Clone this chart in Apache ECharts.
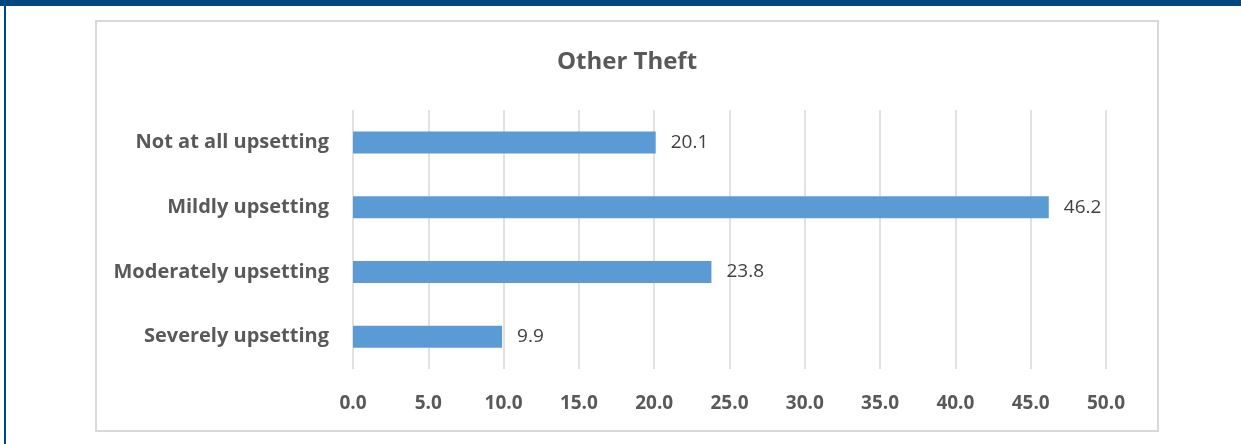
<!DOCTYPE html>
<html>
<head>
<meta charset="utf-8">
<style>
  html, body { margin: 0; padding: 0; background: #ffffff; }
  #chart { width: 1241px; height: 444px; }
</style>
<script src="https://cdn.jsdelivr.net/npm/echarts@6/dist/echarts.min.js"></script>
</head>
<body>
<div id="chart"></div>
<script>
// Survey responses: how upsetting "Other Theft" was, percent of respondents
const categories = ['Not at all upsetting', 'Mildly upsetting', 'Moderately upsetting', 'Severely upsetting'];
const percentValues = [20.1, 46.2, 23.8, 9.9];
const axisMin = 0;
const axisMax = 50;
const axisStep = 5;

const chart = echarts.init(document.getElementById('chart'), null, { renderer: 'canvas' });

const fontFamily = '"Open Sans", "Liberation Sans", sans-serif';

chart.setOption({
  backgroundColor: '#ffffff',
  animation: false,
  title: {
    text: 'Other Theft',
    left: 627,
    top: 50,
    textAlign: 'center',
    padding: 0,
    textStyle: { fontFamily, fontSize: 24, fontWeight: 'bold', color: '#595959' }
  },
  graphic: [
    // dark blue page frame: top band and left edge
    { type: 'rect', shape: { x: 0, y: 0, width: 1241, height: 6 }, style: { fill: '#00477f' }, silent: true },
    { type: 'rect', shape: { x: 4, y: 0, width: 2, height: 444 }, style: { fill: '#00477f' }, silent: true },
    // light grey chart border
    { type: 'rect', shape: { x: 96, y: 21, width: 1062, height: 410 }, style: { fill: 'none', stroke: '#d9d9d9', lineWidth: 2 }, silent: true, z: -1 }
  ],
  grid: { left: 353, right: 135, top: 110, bottom: 75, containLabel: false },
  xAxis: {
    type: 'value',
    min: axisMin,
    max: axisMax,
    interval: axisStep,
    axisLine: { show: false },
    axisTick: { show: false },
    splitLine: { show: true, lineStyle: { color: '#d9d9d9', width: 1.5 } },
    axisLabel: {
      margin: 25,
      fontFamily, fontSize: 19, fontWeight: 'bold', color: '#595959',
      formatter: v => v.toFixed(1)
    }
  },
  yAxis: {
    type: 'category',
    data: categories,
    inverse: true,
    axisLine: { show: false },
    axisTick: { show: false },
    splitLine: { show: false },
    axisLabel: { margin: 24, fontFamily, fontSize: 20, fontWeight: 'bold', color: '#595959' }
  },
  series: [{
    type: 'bar',
    data: percentValues,
    barWidth: 22,
    itemStyle: { color: '#5b9bd5' },
    label: {
      show: true,
      position: 'right',
      distance: 15,
      fontFamily, fontSize: 19, color: '#404040',
      formatter: p => p.value.toFixed(1)
    }
  }]
});
</script>
</body>
</html>
